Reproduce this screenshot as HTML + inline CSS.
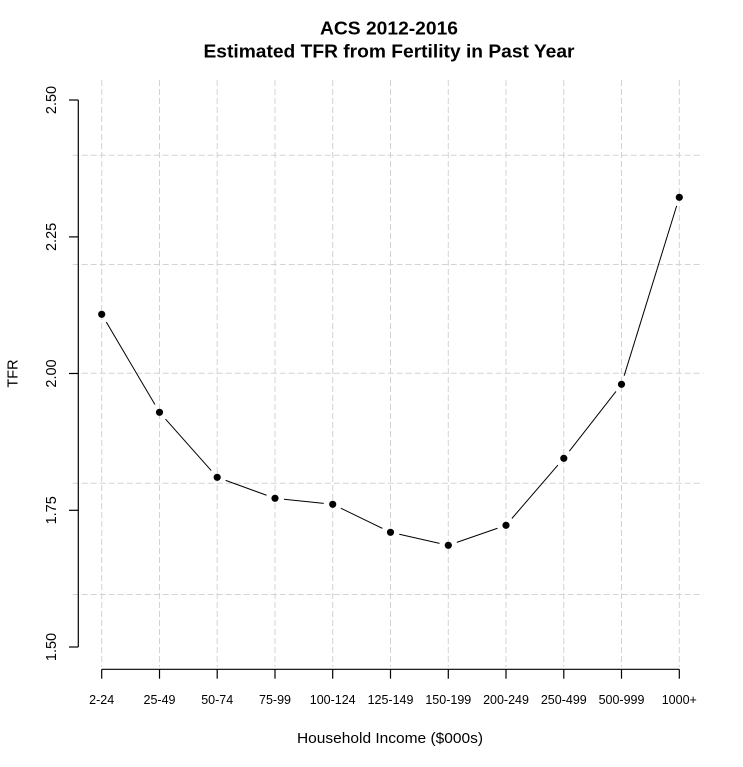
<!DOCTYPE html>
<html>
<head>
<meta charset="utf-8">
<style>
  html, body { margin: 0; padding: 0; background: #ffffff; }
  svg { display: block; }
  text { font-family: "Liberation Sans", Arial, sans-serif; fill: #000; }
</style>
</head>
<body>
<svg width="743" height="767" viewBox="0 0 743 767" xmlns="http://www.w3.org/2000/svg">
  <rect x="0" y="0" width="743" height="767" fill="#ffffff"/>

  <!-- Title -->
  <text x="389" y="34.5" text-anchor="middle" font-size="18" font-weight="bold" textLength="138" lengthAdjust="spacingAndGlyphs">ACS 2012-2016</text>
  <text x="389" y="57.5" text-anchor="middle" font-size="18" font-weight="bold" textLength="371" lengthAdjust="spacingAndGlyphs">Estimated TFR from Fertility in Past Year</text>

  <!-- Grid -->
  <g stroke="#d3d3d3" stroke-width="1" stroke-dasharray="6 3" fill="none">
    <line x1="101.7" y1="80" x2="101.7" y2="667"/>
    <line x1="159.5" y1="80" x2="159.5" y2="667"/>
    <line x1="217.2" y1="80" x2="217.2" y2="667"/>
    <line x1="275.0" y1="80" x2="275.0" y2="667"/>
    <line x1="332.7" y1="80" x2="332.7" y2="667"/>
    <line x1="390.5" y1="80" x2="390.5" y2="667"/>
    <line x1="448.3" y1="80" x2="448.3" y2="667"/>
    <line x1="506.0" y1="80" x2="506.0" y2="667"/>
    <line x1="563.8" y1="80" x2="563.8" y2="667"/>
    <line x1="621.5" y1="80" x2="621.5" y2="667"/>
    <line x1="679.3" y1="80" x2="679.3" y2="667"/>

    <line x1="72.7" y1="155.3" x2="703.3" y2="155.3"/>
    <line x1="72.7" y1="264.5" x2="703.3" y2="264.5"/>
    <line x1="72.7" y1="373.3" x2="703.3" y2="373.3"/>
    <line x1="72.7" y1="483.2" x2="703.3" y2="483.2"/>
    <line x1="72.7" y1="594.5" x2="703.3" y2="594.5"/>
  </g>

  <!-- Y axis -->
  <g stroke="#000" stroke-width="1.2" fill="none">
    <line x1="78.3" y1="100" x2="78.3" y2="647"/>
    <line x1="69" y1="100" x2="78.3" y2="100"/>
    <line x1="69" y1="236.9" x2="78.3" y2="236.9"/>
    <line x1="69" y1="373.5" x2="78.3" y2="373.5"/>
    <line x1="69" y1="510.3" x2="78.3" y2="510.3"/>
    <line x1="69" y1="647" x2="78.3" y2="647"/>
  </g>
  <g font-size="14.5" text-anchor="middle">
    <text transform="translate(56,100) rotate(-90)">2.50</text>
    <text transform="translate(56,236.9) rotate(-90)">2.25</text>
    <text transform="translate(56,373.5) rotate(-90)">2.00</text>
    <text transform="translate(56,510.3) rotate(-90)">1.75</text>
    <text transform="translate(56,647) rotate(-90)">1.50</text>
  </g>
  <text transform="translate(17.5,373.5) rotate(-90)" text-anchor="middle" font-size="14.5">TFR</text>

  <!-- X axis -->
  <g stroke="#000" stroke-width="1.2" fill="none">
    <line x1="101.7" y1="669.3" x2="679.3" y2="669.3"/>
    <line x1="101.7" y1="669.3" x2="101.7" y2="678.7"/>
    <line x1="159.5" y1="669.3" x2="159.5" y2="678.7"/>
    <line x1="217.2" y1="669.3" x2="217.2" y2="678.7"/>
    <line x1="275.0" y1="669.3" x2="275.0" y2="678.7"/>
    <line x1="332.7" y1="669.3" x2="332.7" y2="678.7"/>
    <line x1="390.5" y1="669.3" x2="390.5" y2="678.7"/>
    <line x1="448.3" y1="669.3" x2="448.3" y2="678.7"/>
    <line x1="506.0" y1="669.3" x2="506.0" y2="678.7"/>
    <line x1="563.8" y1="669.3" x2="563.8" y2="678.7"/>
    <line x1="621.5" y1="669.3" x2="621.5" y2="678.7"/>
    <line x1="679.3" y1="669.3" x2="679.3" y2="678.7"/>
  </g>
  <g font-size="12.5" text-anchor="middle">
    <text x="101.7" y="704">2-24</text>
    <text x="159.5" y="704">25-49</text>
    <text x="217.2" y="704">50-74</text>
    <text x="275.0" y="704">75-99</text>
    <text x="332.7" y="704">100-124</text>
    <text x="390.5" y="704">125-149</text>
    <text x="448.3" y="704">150-199</text>
    <text x="506.0" y="704">200-249</text>
    <text x="563.8" y="704">250-499</text>
    <text x="621.5" y="704">500-999</text>
    <text x="679.3" y="704">1000+</text>
  </g>
  <text x="390" y="743" text-anchor="middle" font-size="15" textLength="186" lengthAdjust="spacingAndGlyphs">Household Income ($000s)</text>

  <!-- Series line segments (type="b" gaps) -->
  <g stroke="#000" stroke-width="1" fill="none">
    <line x1="106.27" y1="322.05" x2="154.93" y2="404.55"/>
    <line x1="165.48" y1="419.03" x2="211.22" y2="470.57"/>
    <line x1="225.66" y1="480.37" x2="266.54" y2="495.23"/>
    <line x1="283.95" y1="499.23" x2="323.75" y2="503.37"/>
    <line x1="340.8" y1="508.22" x2="382.4" y2="528.38"/>
    <line x1="399.28" y1="534.27" x2="439.52" y2="543.33"/>
    <line x1="456.8" y1="542.35" x2="497.5" y2="528.25"/>
    <line x1="511.88" y1="518.49" x2="557.92" y2="465.11"/>
    <line x1="569.33" y1="451.2" x2="615.97" y2="391.4"/>
    <line x1="624.16" y1="375.7" x2="676.64" y2="205.9"/>
  </g>

  <!-- Points -->
  <g fill="#000">
    <circle cx="101.7" cy="314.3" r="3.6"/>
    <circle cx="159.5" cy="412.3" r="3.6"/>
    <circle cx="217.2" cy="477.3" r="3.6"/>
    <circle cx="275.0" cy="498.3" r="3.6"/>
    <circle cx="332.7" cy="504.3" r="3.6"/>
    <circle cx="390.5" cy="532.3" r="3.6"/>
    <circle cx="448.3" cy="545.3" r="3.6"/>
    <circle cx="506.0" cy="525.3" r="3.6"/>
    <circle cx="563.8" cy="458.3" r="3.6"/>
    <circle cx="621.5" cy="384.3" r="3.6"/>
    <circle cx="679.3" cy="197.3" r="3.6"/>
  </g>
</svg>
</body>
</html>
